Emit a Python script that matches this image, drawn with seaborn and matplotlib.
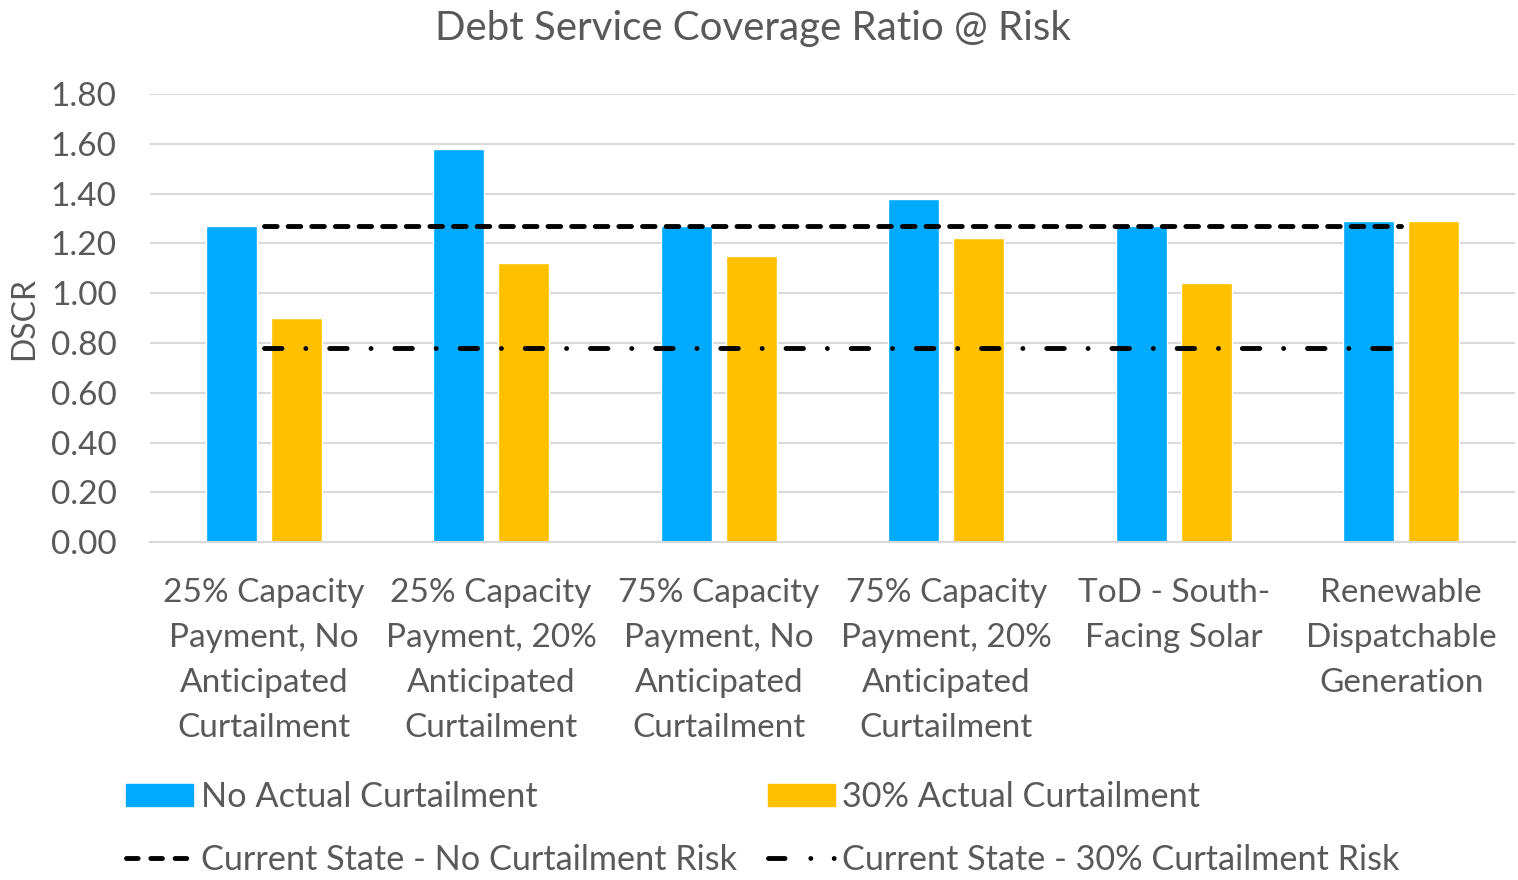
import matplotlib
matplotlib.use("Agg")
import matplotlib.pyplot as plt
import seaborn as sns
import pandas as pd
import numpy as np
from matplotlib.patches import Patch
from matplotlib.lines import Line2D

categories = [
    "25% Capacity\nPayment, No\nAnticipated\nCurtailment",
    "25% Capacity\nPayment, 20%\nAnticipated\nCurtailment",
    "75% Capacity\nPayment, No\nAnticipated\nCurtailment",
    "75% Capacity\nPayment, 20%\nAnticipated\nCurtailment",
    "ToD - South-\nFacing Solar",
    "Renewable\nDispatchable\nGeneration",
]
series_names = ["No Actual Curtailment", "30% Actual Curtailment"]
no_actual = [1.27, 1.58, 1.27, 1.38, 1.27, 1.29]
actual_30 = [0.90, 1.12, 1.15, 1.22, 1.04, 1.29]
current_no_risk = [1.27, 1.27, 1.27, 1.27, 1.27, 1.27]
current_30_risk = [0.78, 0.78, 0.78, 0.78, 0.78, 0.78]
line_names = ["Current State - No Curtailment Risk", "Current State - 30% Curtailment Risk"]
yticks = [0.0, 0.2, 0.4, 0.6, 0.8, 1.0, 1.2, 1.4, 1.6, 1.8]

BLUE = "#00AAFF"
ORANGE = "#FFC000"
TEXT = "#595959"
GRID = "#D9D9D9"

sns.set_theme(style="white")
plt.rcParams["font.family"] = ["Lato", "DejaVu Sans"]

df = pd.DataFrame({
    "category": categories * 2,
    "DSCR": no_actual + actual_30,
    "series": [series_names[0]] * 6 + [series_names[1]] * 6,
})

fig = plt.figure(figsize=(15.18, 8.8), dpi=100)
ax = fig.add_axes([0.0988, 0.384, 0.8992, 0.509])

sns.barplot(data=df, x="category", y="DSCR", hue="series", order=categories,
            hue_order=series_names, palette=[BLUE, ORANGE], saturation=1,
            width=0.572, gap=0.217, errorbar=None, legend=False, ax=ax)

x_idx = np.arange(len(categories))
lw = 3.5
DASH = (2.6, 2.26)
DASHDOT = (3.6, 4.9, 0.01, 4.9)
ax.plot(x_idx, current_no_risk, color="black", lw=lw, dashes=DASH, dash_capstyle="round")
ax.plot(x_idx, current_30_risk, color="black", lw=lw, dashes=DASHDOT, dash_capstyle="round")

ax.set_xlim(-0.5, len(categories) - 0.5)
ax.set_ylim(0, 1.8)
ax.set_yticks(yticks)
ax.set_yticklabels([f"{v:.2f}" for v in yticks])
ax.yaxis.grid(True, color=GRID, lw=1.5)
ax.set_axisbelow(True)
for s in ["top", "right", "left"]:
    ax.spines[s].set_visible(False)
ax.spines["bottom"].set_color(GRID)
ax.spines["bottom"].set_linewidth(1.5)
ax.tick_params(axis="y", length=0, pad=24, labelsize=24, labelcolor=TEXT)
ax.tick_params(axis="x", length=0, pad=26, labelsize=24, labelcolor=TEXT)
for t in ax.get_xticklabels():
    t.set_linespacing(1.62)
ax.set_xlabel("")
ax.set_ylabel("DSCR", fontsize=23, color=TEXT, labelpad=8)
fig.suptitle("Debt Service Coverage Ratio @ Risk", fontsize=29, color=TEXT,
             x=0.496, y=0.968, va="center")

handles = [Patch(color=BLUE),
           Line2D([], [], color="black", lw=lw, dashes=(2.4, 2.6), dash_capstyle="round"),
           Patch(color=ORANGE),
           Line2D([], [], color="black", lw=lw, dashes=(3.4, 5.3, 0.01, 4.8, 0.01, 12),
                  dash_capstyle="round")]
labels = [series_names[0], line_names[0], series_names[1], line_names[1]]
fig.legend(handles, labels, ncol=2, loc="upper left", bbox_to_anchor=(0.0833, 0.1125),
           frameon=False, fontsize=24.7, handlelength=1.95, handleheight=0.6,
           handletextpad=0.22, columnspacing=0.9, labelspacing=0.9,
           labelcolor=TEXT, borderaxespad=0, borderpad=0)

fig.savefig("out.png", dpi=100)
